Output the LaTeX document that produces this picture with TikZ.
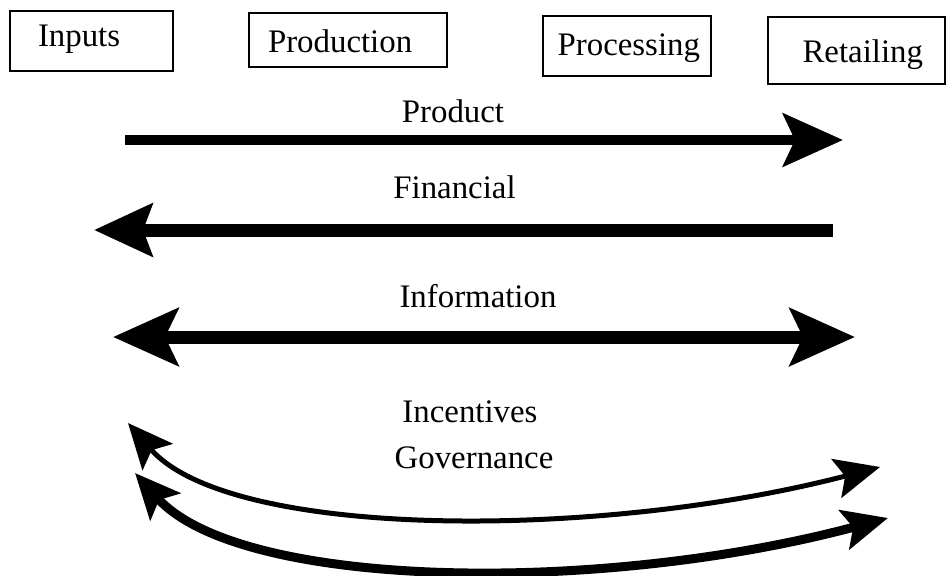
\documentclass[tikz,border=0pt]{standalone}
\usepackage{fontspec}
\setmainfont{Liberation Serif}
\usetikzlibrary{arrows.meta}
\begin{document}
\begin{tikzpicture}[x=0.02cm,y=-0.02cm,
    every node/.style={font=\fontsize{18.7}{22}\selectfont},
    stage/.style={draw,line width=0.8pt,inner sep=0pt,text depth=0.1cm},
    flow/.style={line width=0.2cm,-{Stealth[length=1.2cm,width=1.06cm,inset=0.24cm]}},
    backflow/.style={line width=0.26cm,-{Stealth[length=1.16cm,width=1.04cm,inset=0.18cm]}},
    twoflow/.style={line width=0.26cm,{Stealth[length=1.3cm,width=1.14cm,inset=0.26cm]}-{Stealth[length=1.3cm,width=1.14cm,inset=0.26cm]}},
    bent/.style={{Stealth[length=0.9cm,width=0.8cm,inset=0.18cm]}-{Stealth[length=0.9cm,width=0.8cm,inset=0.18cm]}}]
    \useasboundingbox (0,0) rectangle (947,575);

    % Chain stages
    \node[stage,minimum width=3.26cm,minimum height=1.2cm,text width=2.14cm,align=left,text height=0.34cm] (inputs) at (91.5,41) {Inputs};
    \node[stage,minimum width=3.96cm,minimum height=1.08cm,text width=3.2cm,align=left,text height=0.62cm] (production) at (348,40) {Production};
    \node[stage,minimum width=3.36cm,minimum height=1.2cm,text width=2.92cm,align=right,text height=0.46cm] (processing) at (627,46) {Processing};
    \node[stage,minimum width=3.54cm,minimum height=1.34cm,text width=2.66cm,align=right,text height=0.56cm] (retailing) at (856.5,50.5) {Retailing};

    % Product flow
    \node[anchor=base] (product) at (453,122) {Product};
    \coordinate (p1) at (125,140);
    \coordinate (p2) at (843,140);
    \draw[flow] (p1) -- (p2);

    % Financial flow
    \node[anchor=base] (financial) at (454.5,198) {Financial};
    \coordinate (f1) at (833,230);
    \coordinate (f2) at (94,230);
    \draw[backflow] (f1) -- (f2);

    % Information flow
    \node[anchor=base] (information) at (478,307) {Information};
    \coordinate (i1) at (113,337);
    \coordinate (i2) at (855,337);
    \draw[twoflow] (i1) -- (i2);

    % Incentives and governance
    \node[anchor=base] (incentives) at (470,422) {Incentives};
    \node[anchor=base] (governance) at (474,468) {Governance};
    \coordinate (a1) at (128,423);
    \coordinate (a2) at (880,467);
    \coordinate (b1) at (135,473);
    \coordinate (b2) at (888,518);
    \draw[bent,line width=0.1cm] (a1) .. controls (230,540) and (600,540) .. (a2);
    \draw[bent,line width=0.18cm] (b1) .. controls (240,590) and (600,595) .. (b2);
\end{tikzpicture}
\end{document}
